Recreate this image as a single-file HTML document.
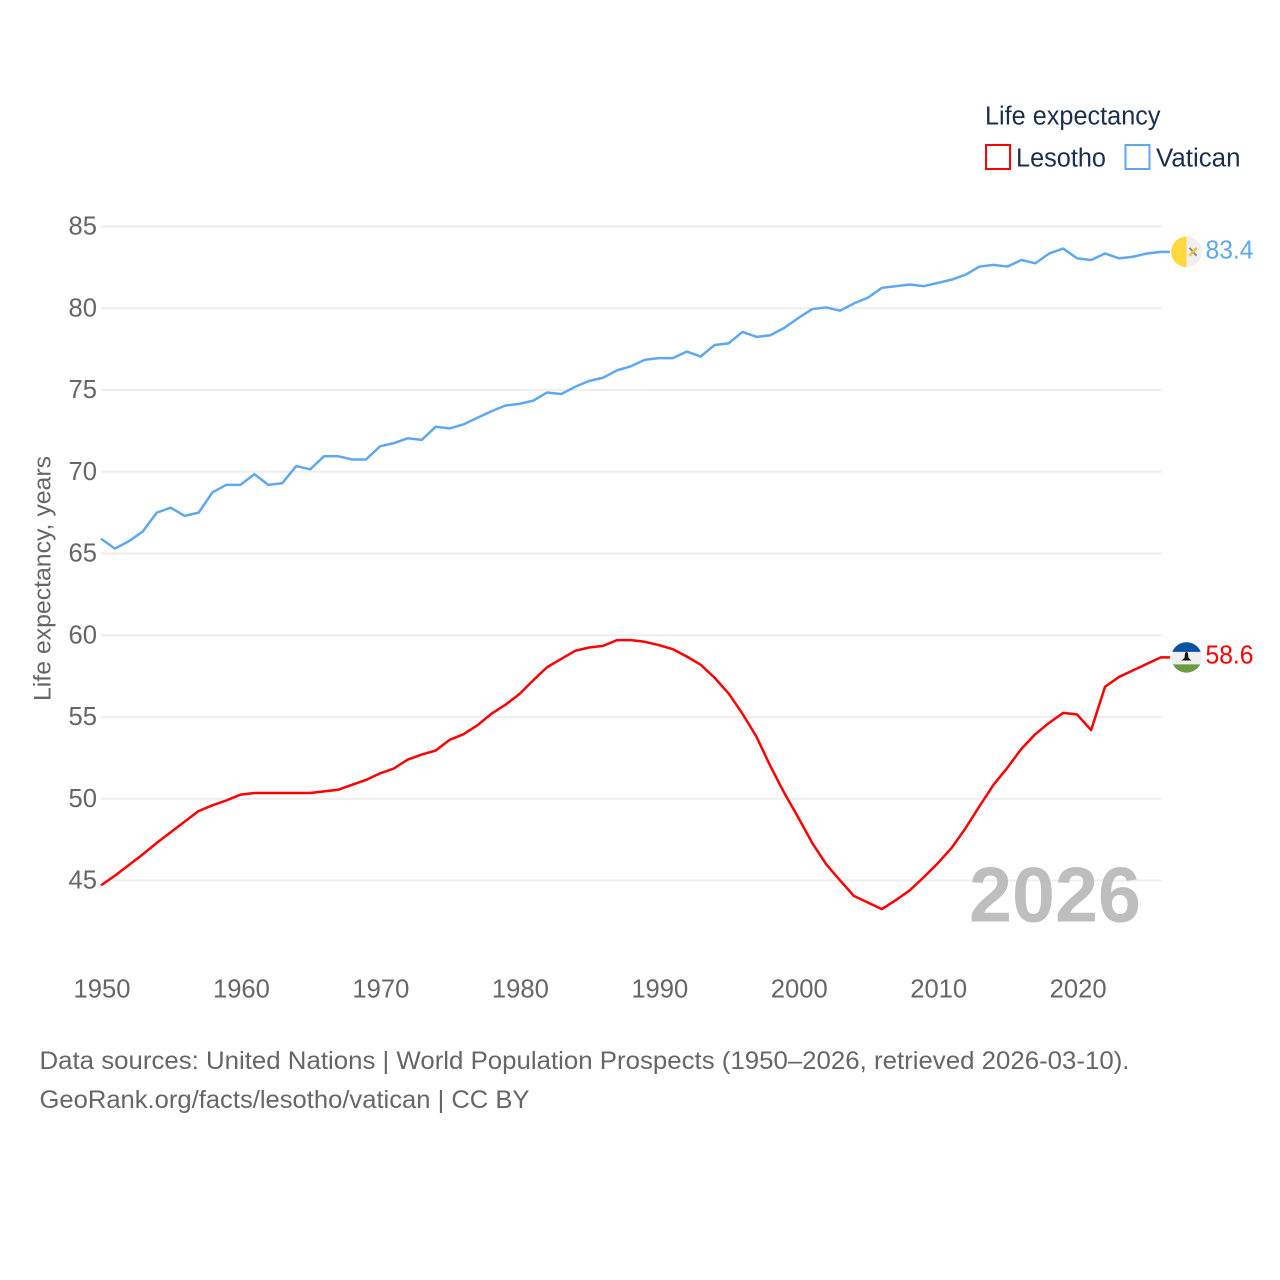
<!DOCTYPE html>
<html lang="en">
<head>
<meta charset="utf-8">
<title>Life expectancy: Lesotho and Vatican</title>
<style>
html,body{margin:0;padding:0;background:#fff;}
svg{display:block;font-family:"Liberation Sans",sans-serif;}
</style>
</head>
<body>
<svg id="chart" xmlns="http://www.w3.org/2000/svg" width="1280" height="1280" viewBox="0 0 1280 1280">
  <rect x="0" y="0" width="1280" height="1280" fill="#ffffff"/>
  <g id="grid"></g>
  <g id="yticks"></g>
  <g id="xticks"></g>
  <text transform="translate(50.5,701) rotate(-90)" font-size="24.5" fill="#666666" textLength="245" lengthAdjust="spacingAndGlyphs">Life expectancy, years</text>
  <text x="969" y="921.5" font-size="78" font-weight="700" fill="#b8b8b8" fill-opacity="0.92" textLength="172" lengthAdjust="spacingAndGlyphs">2026</text>
  <g id="series"></g>
  <g id="ends"></g>
  <g>
    <text x="985" y="124.5" font-size="25.5" fill="#1a2f4f" textLength="175.5" lengthAdjust="spacingAndGlyphs">Life expectancy</text>
    <rect x="986" y="145" width="24" height="24" fill="none" stroke="#ff0000" stroke-width="2"/>
    <text x="1016" y="166.5" font-size="25.5" fill="#1a2f4f" textLength="90" lengthAdjust="spacingAndGlyphs">Lesotho</text>
    <rect x="1125.5" y="145" width="24" height="24" fill="none" stroke="#5fa8ee" stroke-width="2"/>
    <text x="1156" y="166.5" font-size="25.5" fill="#1a2f4f" textLength="84.5" lengthAdjust="spacingAndGlyphs">Vatican</text>
  </g>
  <g>
    <text x="39.5" y="1069" font-size="25" fill="#666666" textLength="1090" lengthAdjust="spacingAndGlyphs">Data sources: United Nations | World Population Prospects (1950–2026, retrieved 2026-03-10).</text>
    <text x="39.5" y="1108" font-size="25" fill="#666666" textLength="490" lengthAdjust="spacingAndGlyphs">GeoRank.org/facts/lesotho/vatican | CC BY</text>
  </g>
</svg>
<script>
const firstYear = 1950;
const yTickValues = [45, 50, 55, 60, 65, 70, 75, 80, 85];
const xTickValues = [1950, 1960, 1970, 1980, 1990, 2000, 2010, 2020];
const vaticanValues = [
  65.9, 65.3, 65.75, 66.35, 67.5, 67.8, 67.3, 67.5, 68.75, 69.2,
  69.2, 69.85, 69.2, 69.3, 70.35, 70.15, 70.95, 70.95, 70.75, 70.75,
  71.55, 71.75, 72.05, 71.95, 72.75, 72.65, 72.9, 73.3, 73.7, 74.05,
  74.15, 74.35, 74.85, 74.75, 75.2, 75.55, 75.75, 76.2, 76.45, 76.85,
  76.95, 76.95, 77.35, 77.05, 77.75, 77.85, 78.55, 78.25, 78.35, 78.8,
  79.4, 79.95, 80.05, 79.85, 80.3, 80.65, 81.25, 81.35, 81.45, 81.35,
  81.55, 81.75, 82.05, 82.55, 82.65, 82.55, 82.95, 82.75, 83.35, 83.65,
  83.05, 82.95, 83.35, 83.05, 83.15, 83.35, 83.45
];
const lesothoValues = [
  44.7, 45.3, 45.95, 46.6, 47.3, 47.95, 48.6, 49.25, 49.6, 49.9,
  50.25, 50.35, 50.35, 50.35, 50.35, 50.35, 50.45, 50.55, 50.85, 51.15,
  51.55, 51.85, 52.4, 52.7, 52.95, 53.6, 53.95, 54.5, 55.2, 55.75,
  56.4, 57.25, 58.05, 58.55, 59.05, 59.25, 59.35, 59.7, 59.7, 59.6,
  59.4, 59.15, 58.7, 58.2, 57.4, 56.45, 55.2, 53.8, 52.0, 50.35,
  48.85, 47.3, 46.0, 45.0, 44.05, 43.65, 43.25, 43.8, 44.4, 45.2,
  46.05, 47.0, 48.2, 49.55, 50.85, 51.9, 53.05, 53.95, 54.65, 55.25,
  55.15, 54.2, 56.85, 57.45, 57.85, 58.25, 58.65
];
const vaticanLabel = "83.4";
const lesothoLabel = "58.6";

const SVG_NS = "http://www.w3.org/2000/svg";
const xScale = function (year) { return 101 + (year - 1950) * 13.945; };
const yScale = function (value) { return 880.5 - (value - 45) * 16.35; };

function make(tag, parent, attrs) {
  const el = document.createElementNS(SVG_NS, tag);
  Object.keys(attrs).forEach(function (k) { el.setAttribute(k, attrs[k]); });
  parent.appendChild(el);
  return el;
}

const gridGroup = document.getElementById("grid");
const yTickGroup = document.getElementById("yticks");
const xTickGroup = document.getElementById("xticks");
const seriesGroup = document.getElementById("series");
const endGroup = document.getElementById("ends");

yTickValues.forEach(function (v) {
  const line = make("line", gridGroup, { x1: 101, x2: 1161.5, y1: yScale(v), y2: yScale(v), stroke: "#eeeeee", "stroke-width": 2 });
  
  
  const label = make("text", yTickGroup, { x: 97, y: yScale(v) + 8, "text-anchor": "end", "font-size": 25.6, fill: "#666666" });
  
  
  label.textContent = String(v);
});

xTickValues.forEach(function (year) {
  const label = make("text", xTickGroup, { x: xScale(year) + 1, y: 997.5, "text-anchor": "middle", "font-size": 25.6, fill: "#666666" });
  
  
  label.textContent = String(year);
});

function linePoints(values) {
  const pts = values.map(function (v, i) {
    return xScale(firstYear + i).toFixed(2) + "," + yScale(v).toFixed(2);
  });
  const last = values[values.length - 1];
  pts.push("1170," + yScale(last).toFixed(2));
  return pts.join(" ");
}

const lesothoLine = make("polyline", seriesGroup, { points: linePoints(lesothoValues), fill: "none", stroke: "#ff0000", "stroke-width": 2.5, "stroke-linejoin": "round" });



const vaticanLine = make("polyline", seriesGroup, { points: linePoints(vaticanValues), fill: "none", stroke: "#5fa8ee", "stroke-width": 2.5, "stroke-linejoin": "round" });



/* Vatican flag marker and value label */
const vaticanY = yScale(vaticanValues[vaticanValues.length - 1]);
const vaticanFlag = make("g", endGroup, { transform: "translate(1186.5," + vaticanY.toFixed(2) + ")" });


make("circle", vaticanFlag, { cx: 0, cy: 0, r: 15.3, fill: "#efefef" });
make("path", vaticanFlag, { d: "M0,-15.3A15.3,15.3 0 0 0 0,15.3Z", fill: "#ffd83d" });
make("line", vaticanFlag, { x1: 3, y1: -4, x2: 10, y2: 4, stroke: "#8a8a8a", "stroke-width": 2 });
make("line", vaticanFlag, { x1: 10, y1: -4, x2: 3, y2: 4, stroke: "#e8c53a", "stroke-width": 2.4 });

const vaticanText = make("text", endGroup, { x: 1205.5, y: vaticanY + 6.5, "font-size": 25.6, fill: "#5fa8ee", textLength: 48, lengthAdjust: "spacingAndGlyphs" });


vaticanText.textContent = vaticanLabel;

/* Lesotho flag marker and value label */
const lesothoY = yScale(lesothoValues[lesothoValues.length - 1]);
const lesothoFlag = make("g", endGroup, { transform: "translate(1186.5," + lesothoY.toFixed(2) + ")" });


make("circle", lesothoFlag, { cx: 0, cy: 0, r: 15.3, fill: "#efefef" });
make("path", lesothoFlag, { d: "M-14.2,-5.5A15.3,15.3 0 0 1 14.2,-5.5Z", fill: "#0a51a1" });
make("path", lesothoFlag, { d: "M-13.6,7A15.3,15.3 0 0 0 13.6,7Z", fill: "#6b9c3f" });
make("path", lesothoFlag, { d: "M-5,3.2L-2,0.6L-1.4,-4.5L0,-5.6L1.4,-4.5L2,0.6L5,3.2Z", fill: "#111111" });

const lesothoText = make("text", endGroup, { x: 1205.5, y: lesothoY + 6, "font-size": 25.6, fill: "#ff0000", textLength: 48, lengthAdjust: "spacingAndGlyphs" });


lesothoText.textContent = lesothoLabel;
</script>
</body>
</html>
